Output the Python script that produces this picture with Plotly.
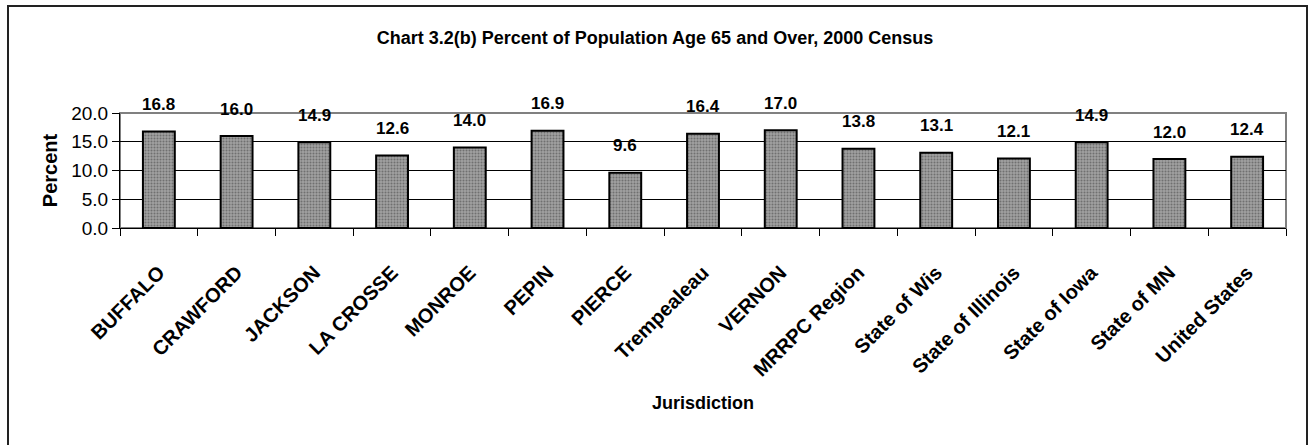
import plotly.graph_objects as go

categories = ["BUFFALO", "CRAWFORD", "JACKSON", "LA CROSSE", "MONROE", "PEPIN", "PIERCE",
              "Trempealeau", "VERNON", "MRRPC Region", "State of Wis", "State of Illinois",
              "State of Iowa", "State of MN", "United States"]
values = [16.8, 16.0, 14.9, 12.6, 14.0, 16.9, 9.6, 16.4, 17.0, 13.8, 13.1, 12.1, 14.9, 12.0, 12.4]
y_ticks = [0, 5, 10, 15, 20]

FONT = "Liberation Sans, Arial, sans-serif"

W, H = 1310, 445
L, R, T, B = 120, 1286, 113, 228

fig = go.Figure()
fig.add_trace(go.Bar(
    x=categories, y=values, width=0.41,
    marker=dict(color="#999999",
                line=dict(color="black", width=2),
                pattern=dict(shape=".", bgcolor="#a0a0a0", fgcolor="#404040",
                             size=3, solidity=0.35)),
    hoverinfo="skip",
))

for c, v in zip(categories, values):
    fig.add_annotation(x=c, y=v, text=f"<b>{v:.1f}</b>", showarrow=False,
                       yshift=27, font=dict(family=FONT, size=17, color="black"))

def px(x):
    return (x - L) / (R - L)

def py(y):
    return (B - y) / (B - T)

# outer figure border
fig.add_shape(type="rect", xref="paper", yref="paper",
              x0=px(8), x1=px(1307), y0=py(452), y1=py(6),
              line=dict(color="#222222", width=2), layer="below")
# plot area border (gray)
fig.add_shape(type="rect", xref="paper", yref="paper",
              x0=0, x1=1, y0=0, y1=1,
              line=dict(color="#808080", width=2), layer="below")

fig.update_layout(
    width=W, height=H,
    margin=dict(l=L, r=W - R, t=T, b=H - B),
    paper_bgcolor="white", plot_bgcolor="white",
    showlegend=False,
    font=dict(family=FONT, color="black"),
    title=dict(text="<b>Chart 3.2(b) Percent of Population Age 65 and Over, 2000 Census</b>",
               x=0.5, xref="container", xanchor="center",
               y=1 - 38 / H, yanchor="middle",
               font=dict(family=FONT, size=18, color="black")),
)
fig.update_xaxes(
    type="category", tickson="boundaries", ticks="outside", ticklen=7,
    tickcolor="black", showline=True, linecolor="black", linewidth=1,
    tickangle=-45, tickfont=dict(family=FONT, size=20, color="black"),
    tickprefix="<b>", ticksuffix="</b>",
    ticklabelstandoff=24,
    title=dict(text="<b>Jurisdiction</b>", font=dict(family=FONT, size=18, color="black"),
               standoff=16),
    showgrid=False,
)
fig.update_yaxes(
    range=[0, 20], tickvals=y_ticks, tickformat=".1f", ticks="outside", ticklen=7,
    tickcolor="black", showline=True, linecolor="black", linewidth=1,
    showgrid=True, gridcolor="black", gridwidth=1,
    tickfont=dict(family=FONT, size=19, color="black"),
    title=dict(text="<b>Percent</b>", font=dict(family=FONT, size=20, color="black"),
               standoff=8),
    zeroline=False,
)

fig.write_html("out.html", config={"displayModeBar": False},
               post_script="document.body.style.margin='0';")
